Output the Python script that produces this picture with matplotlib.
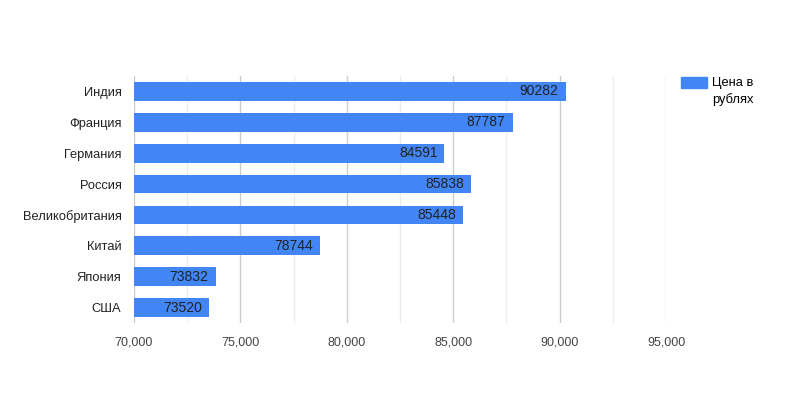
import matplotlib
matplotlib.use("Agg")
import matplotlib.pyplot as plt
from matplotlib.ticker import MultipleLocator, FuncFormatter
from matplotlib.patches import Patch

plt.rcParams["font.family"] = ["Liberation Sans", "DejaVu Sans"]

countries = ["Индия", "Франция", "Германия", "Россия", "Великобритания",
             "Китай", "Япония", "США"]
prices = [90282, 87787, 84591, 85838, 85448, 78744, 73832, 73520]
series_name = "Цена в\nрублях"
bar_color = "#4285F4"

fig = plt.figure(figsize=(8, 4), dpi=100)
ax = fig.add_axes([0.1675, 0.1925, 0.665, 0.6175])

pos = list(range(len(countries)))
base = 70000
ax.barh(pos, [p - base for p in prices], left=base, height=0.61,
        color=bar_color, zorder=3)

for y, p in zip(pos, prices):
    ax.annotate(str(p), xy=(p, y), xytext=(-5, 0), textcoords="offset points",
                ha="right", va="center", fontsize=10, color="#222222", zorder=4)

ax.set_xlim(70000, 95000)
ax.set_ylim(len(countries) - 0.5, -0.5)
ax.set_yticks(pos)
ax.set_yticklabels(countries)

ax.xaxis.set_major_locator(MultipleLocator(5000))
ax.xaxis.set_minor_locator(MultipleLocator(2500))
ax.xaxis.set_major_formatter(FuncFormatter(lambda v, _: f"{int(v):,}"))
ax.grid(axis="x", which="major", color="#cccccc", linewidth=1, zorder=0)
ax.grid(axis="x", which="minor", color="#ebebeb", linewidth=1, zorder=0)
ax.tick_params(axis="both", which="both", length=0)
ax.tick_params(axis="x", labelsize=9, colors="#444444", pad=10)
ax.tick_params(axis="y", labelsize=9.3, colors="#222222", pad=9)
for s in ax.spines.values():
    s.set_visible(False)

leg = ax.legend(handles=[Patch(color=bar_color, label=series_name)],
                loc="upper left", bbox_to_anchor=(1.018, 1.018), frameon=False,
                fontsize=9.3, handlelength=2.0, handleheight=1.0,
                handletextpad=0.4, borderaxespad=0)
leg.get_texts()[0].set_linespacing(1.45)
# keep the swatch level with the first line of the label
for col in leg._legend_handle_box.get_children():
    for row in col.get_children():
        row.align = "top"

fig.savefig("out.png", dpi=100)
